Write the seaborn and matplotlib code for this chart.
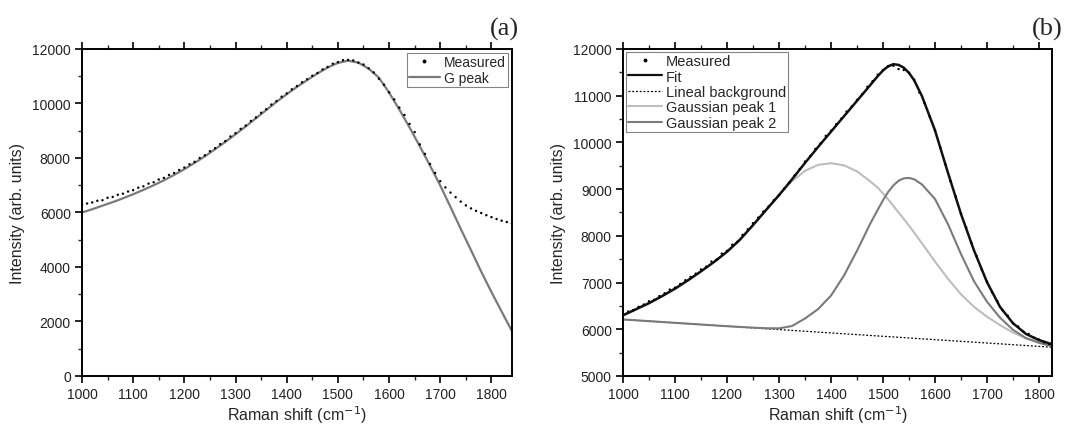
import numpy as np
import pandas as pd
import matplotlib
matplotlib.use("Agg")
import matplotlib.pyplot as plt
from matplotlib.ticker import MultipleLocator
from matplotlib.lines import Line2D
import seaborn as sns

# ---------------- Panel (a) data ----------------
a_meas_x = list(range(1000, 1841, 10))
a_meas_y = [6300, 6330, 6370, 6430, 6450, 6540, 6570, 6650, 6690, 6770,
            6820, 6910, 6960, 7060, 7110, 7210, 7270, 7380, 7450, 7560,
            7650, 7770, 7860, 8000, 8100, 8250, 8360, 8510, 8620, 8790,
            8910, 9070, 9190, 9360, 9490, 9660, 9790, 9960, 10090, 10250,
            10370, 10520, 10640, 10780, 10890, 11020, 11120, 11250, 11340, 11460,
            11520, 11590, 11600, 11580, 11500, 11430, 11290, 11140, 10910, 10690,
            10410, 10150, 9850, 9580, 9250, 8950, 8500, 8150, 7780, 7450,
            7150, 6920, 6730, 6560, 6400, 6260, 6150, 6060, 5980, 5900,
            5830, 5760, 5700, 5650, 5600]
a_g_x = list(range(1000, 1841, 20))
a_g_y = [6000, 6120, 6250, 6380, 6520, 6670, 6830, 7000, 7180, 7380,
         7590, 7820, 8060, 8320, 8590, 8870, 9160, 9460, 9760, 10060,
         10340, 10610, 10860, 11100, 11320, 11490, 11570, 11500, 11280, 10950,
         10400, 9780, 9120, 8430, 7720, 6990, 6200, 5400, 4620, 3830,
         3080, 2360, 1650]

# ---------------- Panel (b) data ----------------
b_meas_x = list(range(1000, 1821, 10))
b_meas_y = [6340, 6380, 6410, 6480, 6530, 6600, 6630, 6710, 6770, 6850,
            6890, 6970, 7050, 7120, 7190, 7280, 7340, 7450, 7490, 7620,
            7680, 7810, 7870, 8020, 8140, 8270, 8390, 8520, 8630, 8760,
            8870, 9010, 9140, 9290, 9430, 9590, 9710, 9860, 9980, 10140,
            10250, 10390, 10510, 10660, 10770, 10910, 11030, 11190, 11310, 11450,
            11550, 11630, 11640, 11570, 11550, 11490, 11340, 11070, 10840, 10550,
            10260, 9890, 9530, 9170, 8840, 8480, 8180, 7850, 7570, 7280,
            7020, 6790, 6600, 6410, 6290, 6130, 6060, 5950, 5900, 5820,
            5780, 5720, 5680]
b_x = [1000, 1025, 1050, 1075, 1100, 1125, 1150, 1175, 1200, 1225,
       1250, 1275, 1300, 1325, 1350, 1375, 1400, 1425, 1450, 1475,
       1490, 1500, 1510, 1520, 1530, 1540, 1550, 1560, 1575, 1600,
       1625, 1650, 1675, 1700, 1725, 1750, 1775, 1800, 1825]
b_fit = [6300, 6430, 6560, 6710, 6870, 7050, 7240, 7440, 7660, 7920,
         8230, 8550, 8870, 9210, 9560, 9900, 10230, 10560, 10890, 11220,
         11420, 11540, 11630, 11675, 11660, 11600, 11490, 11330, 10990, 10260,
         9350, 8470, 7690, 7010, 6480, 6130, 5900, 5770, 5680]
b_bg = [6210, 6192, 6174, 6156, 6138, 6120, 6102, 6084, 6066, 6048,
        6030, 6012, 5994, 5976, 5958, 5940, 5922, 5904, 5886, 5868,
        5857, 5850, 5843, 5836, 5829, 5822, 5814, 5807, 5796, 5778,
        5760, 5742, 5724, 5706, 5688, 5670, 5652, 5634, 5616]
b_p1 = [6290, 6420, 6550, 6700, 6860, 7040, 7240, 7440, 7650, 7910,
        8220, 8560, 8880, 9170, 9390, 9520, 9555, 9510, 9380, 9170,
        9030, 8910, 8780, 8640, 8500, 8360, 8220, 8070, 7840, 7450,
        7080, 6750, 6480, 6270, 6090, 5930, 5810, 5730, 5685]
b_p2 = [6210, 6192, 6174, 6156, 6138, 6120, 6102, 6084, 6066, 6050,
        6035, 6022, 6020, 6070, 6230, 6430, 6720, 7150, 7680, 8250,
        8560, 8760, 8940, 9080, 9180, 9230, 9240, 9210, 9100, 8790,
        8250, 7610, 7030, 6590, 6250, 5990, 5810, 5710, 5640]

a_xticks = [1000, 1100, 1200, 1300, 1400, 1500, 1600, 1700, 1800]
a_yticks = [0, 2000, 4000, 6000, 8000, 10000, 12000]
b_yticks = [5000, 6000, 7000, 8000, 9000, 10000, 11000, 12000]

sns.set_theme(style="ticks")
plt.rcParams['font.family'] = ['Liberation Sans', 'DejaVu Sans']

fig = plt.figure(figsize=(10.73, 4.31), dpi=100)
axA = fig.add_axes([0.0764, 0.1253, 0.4007, 0.7587])
axB = fig.add_axes([0.5806, 0.1253, 0.3998, 0.7587])

dfa_m = pd.DataFrame({"x": a_meas_x, "y": a_meas_y})
dfa_g = pd.DataFrame({"x": a_g_x, "y": a_g_y})
sns.scatterplot(data=dfa_m, x="x", y="y", ax=axA, s=3, color="black",
                edgecolor="none", marker="o", zorder=3)
sns.lineplot(data=dfa_g, x="x", y="y", ax=axA, color="#7a7a7a", lw=1.6, zorder=2)

dfb_m = pd.DataFrame({"x": b_meas_x, "y": b_meas_y})
dfb = pd.DataFrame({"x": b_x, "fit": b_fit, "bg": b_bg, "p1": b_p1, "p2": b_p2})
sns.lineplot(data=dfb, x="x", y="bg", ax=axB, color="black", lw=0.9,
             linestyle=(0, (1.5, 1.5)), zorder=2)
sns.lineplot(data=dfb, x="x", y="p1", ax=axB, color="#bdbdbd", lw=1.5, zorder=2)
sns.lineplot(data=dfb, x="x", y="p2", ax=axB, color="#7a7a7a", lw=1.5, zorder=2)
sns.lineplot(data=dfb, x="x", y="fit", ax=axB, color="#111111", lw=1.8, zorder=3)
sns.scatterplot(data=dfb_m, x="x", y="y", ax=axB, s=3, color="black",
                edgecolor="none", marker="o", zorder=4)

for ax, yt, ylim, yminor in [(axA, a_yticks, (0, 12000), 1000),
                             (axB, b_yticks, (5000, 12000), 500)]:
    ax.set_xlim(1000, 1840 if ax is axA else 1825)
    ax.set_ylim(*ylim)
    ax.set_xticks(a_xticks)
    ax.set_yticks(yt)
    ax.xaxis.set_minor_locator(MultipleLocator(50))
    ax.yaxis.set_minor_locator(MultipleLocator(yminor))
    ax.tick_params(axis="both", which="major", direction="out", length=5,
                   width=1.2, labelsize=10, colors="black", labelcolor="#222222", pad=3)
    ax.tick_params(axis="both", which="minor", direction="out", length=3, width=1.0)
    ax.tick_params(axis="x", which="both", top=True, labeltop=False)
    ax.tick_params(axis="y", which="both", right=False)
    for sp in ax.spines.values():
        sp.set_visible(True)
        sp.set_linewidth(1.4)
        sp.set_color("black")
    ax.set_xlabel("Raman shift (cm$^{-1}$)", fontsize=11.5, labelpad=1.5)
    ax.set_ylabel("Intensity (arb. units)", fontsize=11.5, labelpad=5)

fig.text(0.4835, 0.958, "(a)", fontsize=19, family=["Liberation Serif", "DejaVu Serif"],
         ha="right", va="top")
fig.text(0.9905, 0.958, "(b)", fontsize=19, family=["Liberation Serif", "DejaVu Serif"],
         ha="right", va="top")

h_meas = Line2D([], [], color="black", marker="o", markersize=1.8, linestyle="none")
hA = [h_meas, Line2D([], [], color="#7a7a7a", lw=1.6)]
legA = axA.legend(hA, ["Measured", "G peak"], loc="upper right", fontsize=10,
                  frameon=True, fancybox=False, edgecolor="#666666",
                  borderaxespad=0.3, handlelength=2.2, handletextpad=0.3,
                  borderpad=0.15, labelspacing=0.1)
legA.get_frame().set_linewidth(0.8)

hB = [h_meas,
      Line2D([], [], color="#111111", lw=1.6),
      Line2D([], [], color="black", lw=0.9, linestyle=(0, (1.5, 1.5))),
      Line2D([], [], color="#bdbdbd", lw=1.5),
      Line2D([], [], color="#7a7a7a", lw=1.5)]
legB = axB.legend(hB, ["Measured", "Fit", "Lineal background", "Gaussian peak 1",
                       "Gaussian peak 2"], loc="upper left", fontsize=10.5,
                  frameon=True, fancybox=False, edgecolor="#666666",
                  borderaxespad=0.2, handlelength=2.3, handletextpad=0.3,
                  borderpad=0.15, labelspacing=0.1)
legB.get_frame().set_linewidth(0.8)

fig.savefig("out.png", dpi=100, facecolor="white")
